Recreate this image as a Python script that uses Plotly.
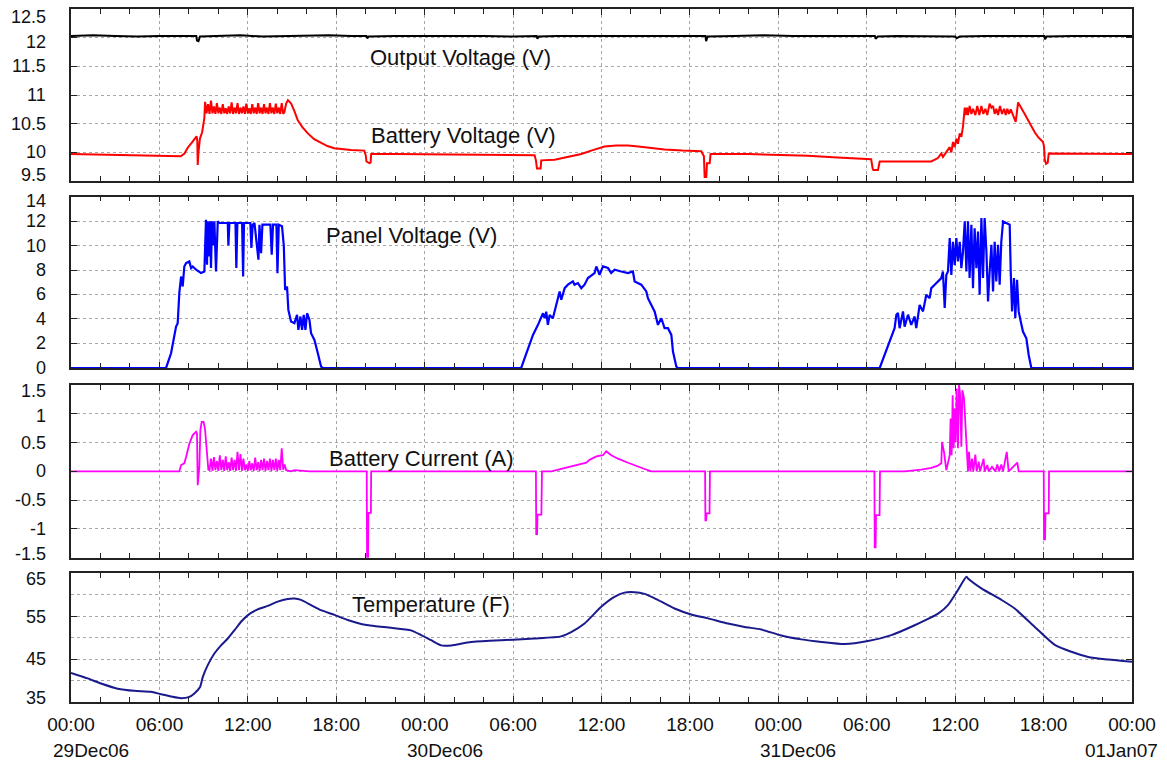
import pandas as pd
import plotly.graph_objects as go

START = pd.Timestamp("2006-12-29 00:00")
END = pd.Timestamp("2007-01-01 00:00")

# ---------------- data (hours since 29Dec06 00:00) ----------------
out_h = [0, 1.5, 3, 4.5, 6, 7.5, 8.5, 8.55, 8.65, 8.75, 10, 11.5, 13, 14.5, 16, 17.5, 19,
         20.05, 20.1, 20.2, 22, 24, 26, 28, 30, 31.6, 31.65, 31.75, 33, 35, 37, 39, 41,
         43.05, 43.1, 43.2, 45, 47, 49, 51, 53, 54.55, 54.6, 54.75, 56, 58, 59.5, 60.0,
         60.1, 60.3, 62, 64, 66.05, 66.1, 66.2, 68, 70, 72]
out_v = [12.03, 12.04, 12.03, 12.02, 12.03, 12.03, 12.03, 11.95, 11.94, 12.02, 12.03, 12.04,
         12.02, 12.03, 12.03, 12.04, 12.03, 12.03, 11.99, 12.02, 12.03, 12.03, 12.04, 12.03,
         12.02, 12.03, 11.98, 12.02, 12.03, 12.03, 12.04, 12.03, 12.03, 12.03, 11.94, 12.02,
         12.03, 12.04, 12.03, 12.03, 12.03, 12.03, 11.98, 12.02, 12.03, 12.03, 12.02, 12.02,
         11.99, 12.02, 12.03, 12.03, 12.03, 11.97, 12.02, 12.03, 12.03, 12.03]

bv_h = [0, 2, 4, 6, 7.45, 7.7, 7.92, 8.2, 8.45, 8.52, 8.57, 8.6, 8.65, 8.75, 8.9, 9.0, 9.05,
        9.1, 9.2, 9.3, 9.4, 9.5, 9.6, 9.7, 9.8, 9.9, 10.0, 10.1, 10.2, 10.3, 10.4, 10.5, 10.6,
        10.7, 10.8, 10.9, 11.0, 11.1, 11.2, 11.3, 11.4, 11.5, 11.6, 11.7, 11.8, 11.9, 12.0,
        12.1, 12.2, 12.3, 12.4, 12.5, 12.6, 12.7, 12.8, 12.9, 13.0, 13.1, 13.2, 13.3, 13.4,
        13.5, 13.6, 13.7, 13.8, 13.9, 14.0, 14.1, 14.2, 14.3, 14.4,
        14.48, 14.6, 14.72, 14.94, 15.16, 15.39, 15.7, 16.07, 16.5, 16.97, 17.4, 17.86, 18.4,
        19.0, 19.9, 20.0, 20.05, 20.25, 20.33, 20.37,
        22, 25, 28, 31.46, 31.55, 31.62, 31.87, 31.91, 32.82, 33.72, 34.63, 35.3, 36.21, 37.0,
        37.8, 38.5, 39.15, 40.28, 41.5, 42.77, 42.95, 43.0, 43.11, 43.16, 43.34, 43.4,
        46, 48.2, 50, 52, 54.3, 54.4, 54.45, 54.76, 54.82, 54.88, 56, 57.5, 58.38, 58.83,
        59.06, 59.17, 59.4, 59.63, 59.74, 59.85, 59.97, 60.08, 60.19, 60.31, 60.42, 60.53,
        60.65, 60.71, 60.8, 60.87, 60.98, 61.1, 61.21, 61.37, 61.5, 61.64, 61.78, 61.91,
        62.05, 62.18, 62.34, 62.46, 62.57, 62.68, 62.79, 62.91, 63.04, 63.18, 63.32, 63.43,
        63.54, 63.65, 63.77, 63.93, 64.11, 64.27, 64.45, 64.72, 64.95, 65.17, 65.4, 65.62,
        65.96, 66.03, 66.08, 66.17, 66.28, 66.35, 68, 70, 72]
bv_v = [9.97, 9.96, 9.95, 9.94, 9.93, 9.98, 10.08, 10.17, 10.26, 10.28, 10.2, 9.78, 10.0,
        10.24, 10.35, 10.5, 10.6,
        10.88, 10.68, 10.84, 10.67, 10.9, 10.68, 10.8, 10.67, 10.86, 10.68, 10.78, 10.67,
        10.84, 10.68, 10.77, 10.67, 10.8, 10.68, 10.87, 10.67, 10.78, 10.68, 10.86, 10.67,
        10.78, 10.68, 10.8, 10.67, 10.85, 10.68, 10.77, 10.67, 10.84, 10.68, 10.78, 10.67,
        10.86, 10.68, 10.78, 10.67, 10.84, 10.68, 10.78, 10.67, 10.86, 10.68, 10.78, 10.67,
        10.85, 10.68, 10.78, 10.67, 10.86, 10.67,
        10.7, 10.85, 10.91, 10.85, 10.72, 10.56, 10.44, 10.33, 10.23, 10.16, 10.11, 10.07,
        10.05, 10.04, 10.03, 9.95, 9.84, 9.81, 9.82, 9.97,
        9.97, 9.96, 9.96, 9.95, 9.86, 9.72, 9.72, 9.86, 9.87, 9.92, 9.97, 10.03, 10.1, 10.12,
        10.12, 10.1, 10.08, 10.05, 10.03, 10.02, 9.93, 9.57, 9.57, 9.81, 9.81, 9.97,
        9.97, 9.96, 9.94, 9.91, 9.88, 9.72, 9.69, 9.69, 9.8, 9.84, 9.84, 9.84, 9.84, 9.9,
        9.98, 9.92, 10.0, 10.09, 10.0, 10.18, 10.09, 10.24, 10.15, 10.33, 10.27, 10.45,
        10.78, 10.65, 10.78, 10.65, 10.81, 10.67, 10.76, 10.65, 10.81, 10.65, 10.81, 10.67,
        10.76, 10.65, 10.85, 10.78, 10.81, 10.67, 10.76, 10.65, 10.81, 10.67, 10.76, 10.65,
        10.76, 10.67, 10.75, 10.65, 10.53, 10.87, 10.78, 10.67, 10.56, 10.45, 10.35, 10.27,
        10.18, 10.1, 9.87, 9.8, 9.82, 9.98, 9.98, 9.97, 9.97]

pv_h = [0, 6.45, 6.79, 7.13, 7.24, 7.35, 7.47, 7.58, 7.69, 7.81, 8.03, 8.15, 8.26, 8.49,
        8.82, 9.05, 9.16, 9.23, 9.28, 9.37, 9.44, 9.5, 9.57, 9.66, 9.73, 9.84, 9.96, 10.07,
        10.64, 10.68, 10.75, 11.16, 11.22, 11.29, 11.61, 11.68, 11.74, 12.17, 12.24, 12.33,
        12.45, 12.72, 12.79, 12.9, 12.99, 13.53, 13.62, 13.71, 13.94, 14.01, 14.1, 14.32,
        14.44, 14.53, 14.66, 14.75, 14.93, 15.16, 15.34, 15.43, 15.57, 15.68, 15.79, 15.91,
        16.02, 16.18, 16.29, 16.52, 16.75, 16.97, 17.09,
        30.55, 30.78, 31.35, 31.69, 32.03, 32.14, 32.25, 32.36, 32.48, 32.7, 32.93, 33.16,
        33.27, 33.5, 33.72, 34.06, 34.17, 34.4, 34.63, 34.85, 35.08, 35.53, 35.65, 35.87,
        36.1, 36.44, 36.66, 36.89, 37.34, 37.8, 38.13, 38.25, 38.7, 39.04, 39.15, 39.38,
        39.61, 39.83, 40.06, 40.28, 40.51, 40.74, 40.85, 41.08, 41.19,
        54.88, 55.21, 55.67, 55.89, 56.01, 56.12, 56.23, 56.46, 56.57, 56.8, 57.02, 57.25,
        57.36, 57.59, 57.82, 58.04, 58.27, 58.38, 58.61, 58.83, 59.06, 59.17, 59.29, 59.4,
        59.51, 59.63, 59.74, 59.85, 59.97, 60.08, 60.19, 60.31, 60.42, 60.53, 60.65, 60.76,
        60.87, 60.98, 61.1, 61.21, 61.32, 61.44, 61.55, 61.66, 61.78, 61.89, 62.0, 62.12,
        62.23, 62.34, 62.46, 62.57, 62.68, 62.79, 62.91, 63.02, 63.13, 63.25, 63.47, 63.7,
        63.77, 63.86, 63.99, 64.08, 64.2, 64.31, 64.45, 64.6, 64.83, 64.99, 65.17, 72]
pv_v = [0, 0, 1.2, 3.38, 3.66, 6.11, 7.47, 6.65, 8.29, 8.57, 8.7, 8.16, 8.29, 8.02, 7.75,
        7.88, 12.1, 8.43, 11.97, 9.11, 11.97, 8.16, 11.97, 10.0, 11.97, 7.88, 11.97, 11.84,
        11.84, 10.0, 11.84, 11.84, 8.16, 11.84, 11.84, 7.47, 11.84, 11.84, 9.8, 11.7, 11.84,
        8.84, 11.7, 9.38, 11.7, 11.7, 9.25, 11.7, 11.7, 7.74, 11.7, 11.57, 10.0, 6.38, 6.65,
        4.74, 3.79, 3.66, 4.33, 3.11, 4.2, 3.11, 4.33, 3.11, 4.47, 3.93, 2.84, 2.29, 1.2,
        0.11, 0,
        0, 0.79, 2.7, 3.52, 4.47, 4.06, 4.6, 3.52, 4.33, 4.06, 5.15, 6.25, 5.57, 6.52, 6.8,
        7.07, 6.8, 6.93, 6.52, 6.8, 7.34, 7.75, 8.29, 7.61, 8.29, 8.16, 7.75, 8.02, 7.88,
        7.75, 7.88, 7.07, 6.8, 6.25, 5.7, 5.15, 4.6, 3.52, 4.06, 3.25, 3.25, 2.7, 1.34, 0.11,
        0,
        0, 1.06, 2.43, 3.25, 4.35, 4.49, 3.25, 4.62, 3.38, 4.35, 3.52, 4.2, 3.25, 5.15, 4.62,
        5.98, 5.7, 6.52, 6.8, 7.07, 7.34, 7.88, 4.9, 7.6, 7.88, 10.6, 7.6, 10.3, 8.4, 10.6,
        8.7, 10.3, 8.15, 9.5, 11.97, 7.88, 11.97, 7.34, 11.7, 6.52, 11.4, 8.15, 11.15, 5.98,
        12.25, 7.34, 12.25, 9.5, 5.43, 7.88, 10.06, 6.25, 10.3, 7.07, 10.06, 6.8, 10.3,
        11.97, 11.83, 11.7, 7.88, 4.62, 7.34, 4.09, 7.2, 4.62, 3.8, 2.97, 2.43, 1.06, 0, 0]

bc_h = [0, 7.35, 7.47, 7.69, 7.81, 8.03, 8.26, 8.49, 8.55, 8.6, 8.71, 8.78, 8.87, 9.0, 9.1,
        9.23, 9.32, 9.4, 9.5, 9.6, 9.7, 9.8, 9.9, 10.0, 10.1, 10.2, 10.3, 10.4, 10.5, 10.6,
        10.7, 10.8, 10.9, 11.0, 11.1, 11.2, 11.3, 11.4, 11.5, 11.6, 11.7, 11.8, 11.9, 12.0,
        12.1, 12.2, 12.3, 12.4, 12.5, 12.6, 12.7, 12.8, 12.9, 13.0, 13.1, 13.2, 13.3, 13.4,
        13.5, 13.6, 13.7, 13.8, 13.9, 14.0, 14.1, 14.2, 14.3, 14.4, 14.5, 14.6, 14.93, 15.16,
        16.07, 16.18, 20.07, 20.09, 20.16, 20.18, 20.35, 20.37,
        31.55, 31.57, 31.63, 31.66, 31.92, 31.96, 32.59, 33.27, 34.17, 34.97, 35.19, 35.65,
        36.1, 36.32, 36.66, 37.12, 37.8, 38.47, 39.15, 39.38, 43.03, 43.05, 43.1, 43.13,
        43.33, 43.36,
        54.52, 54.54, 54.6, 54.63, 54.87, 54.9, 56.57, 57.7, 58.38, 58.83, 59.06, 59.11,
        59.24, 59.4, 59.51, 59.63, 59.69, 59.76, 59.83, 59.9, 59.97, 60.03, 60.1, 60.19,
        60.26, 60.33, 60.42, 60.49, 60.6, 60.69, 60.76, 60.87, 60.94, 61.03, 61.14, 61.23,
        61.37, 61.46, 61.6, 61.69, 61.93, 62.0, 62.18, 62.27, 62.5, 62.73, 62.86, 62.98,
        63.13, 63.25, 63.5, 63.63, 64.22, 64.31, 66.01, 66.03, 66.1, 66.13, 66.35, 66.37, 72]
bc_v = [0, 0, 0.11, 0.14, 0.25, 0.48, 0.63, 0.69, 0.66, -0.24, 0.08, 0.72, 0.86, 0.86, 0.72,
        0.25, 0.03, 0.02, 0.22, 0.01, 0.25, 0.02, 0.18, 0.01, 0.28, 0.02, 0.2, 0.01, 0.26,
        0.02, 0.16, 0.01, 0.24, 0.02, 0.2, 0.01, 0.34, 0.02, 0.3, 0.01, 0.22, 0.02, 0.12,
        0.01, 0.18, 0.02, 0.14, 0.01, 0.24, 0.02, 0.16, 0.01, 0.2, 0.02, 0.22, 0.01, 0.18,
        0.02, 0.22, 0.01, 0.2, 0.02, 0.22, 0.01, 0.2, 0.02, 0.4, 0.03, 0.12, 0.02, 0.0, 0.02,
        0.01, 0, 0, -1.5, -1.5, -0.72, -0.72, 0,
        0, -1.09, -1.09, -0.75, -0.75, 0, 0, 0.04, 0.1, 0.15, 0.2, 0.26, 0.28, 0.35, 0.28,
        0.22, 0.15, 0.08, 0.02, 0, 0, -0.85, -0.85, -0.73, -0.73, 0,
        0, -1.32, -1.32, -0.76, -0.76, 0, 0, 0.03, 0.06, 0.1, 0.14, 0.51, 0.34, 0.02, 0.17,
        0.28, 0.92, 0.28, 1.32, 0.4, 1.09, 0.51, 1.44, 0.4, 1.5, 1.35, 0.43, 1.41, 1.27, 0.8,
        0.34, 0.0, 0.34, 0.0, 0.22, 0.0, 0.29, 0.0, 0.17, 0.0, 0.22, 0.0, 0.11, 0.0, 0.08,
        0.0, 0.12, 0.0, 0.12, 0.0, 0.34, 0.0, 0.15, 0.0, 0, -1.18, -1.18, -0.73, -0.73, 0, 0]

tp_h = [0, 1.13, 2.04, 3.17, 4.3, 5.43, 6.11, 6.79, 7.47, 8.03, 8.37, 8.76, 8.94, 9.28,
        9.73, 10.18, 10.64, 11.09, 11.54, 11.99, 12.67, 13.35, 14.03, 14.71, 15.16, 15.61,
        16.29, 16.97, 17.88, 18.78, 19.69, 20.59, 21.72, 23.08, 23.76, 24.44, 25.12, 25.8,
        27.15, 29.19, 31.45, 33.26, 33.94, 34.85, 35.98, 36.88, 37.56, 38.24, 38.92, 39.82,
        40.96, 42.09, 43.22, 44.58, 45.71, 46.84, 48.2, 49.56, 50.92, 52.5, 54.08, 55.67,
        57.25, 58.84, 59.51, 60.19, 60.76, 60.87, 61.78, 63.14, 64.04, 65.4, 66.76, 67.89,
        69.02, 70.38, 72]
tp_v = [41.8, 40.5, 39.3, 38.1, 37.6, 37.4, 36.8, 36.3, 35.9, 36.2, 37.0, 38.5, 40.8, 43.6,
        46.3, 48.2, 49.8, 51.7, 53.7, 55.2, 56.6, 57.4, 58.4, 59.0, 59.1, 58.8, 57.6, 56.4,
        55.3, 54.1, 53.2, 52.7, 52.3, 51.7, 50.6, 49.4, 48.2, 48.2, 49.0, 49.4, 49.8, 50.3,
        51.3, 53.3, 57.2, 59.5, 60.5, 60.6, 60.2, 58.8, 56.8, 55.4, 54.5, 53.3, 52.5, 51.9,
        50.5, 49.6, 49.0, 48.5, 49.2, 50.6, 52.9, 55.6, 57.6, 61.1, 64.2, 63.8, 61.5, 58.8,
        56.8, 52.5, 48.3, 46.7, 45.5, 44.9, 44.4]

p1_ticks = [9.5, 10, 10.5, 11, 11.5, 12, 12.5]
p1_text = ["9.5", "10", "10.5", "11", "11.5", "12", "12.5"]
p2_ticks = [0, 2, 4, 6, 8, 10, 12, 14]
p2_text = ["0", "2", "4", "6", "8", "10", "12", "14"]
p3_ticks = [-1.5, -1, -0.5, 0, 0.5, 1, 1.5]
p3_text = ["-1.5", "-1", "-0.5", "0", "0.5", "1", "1.5"]
p4_ticks = [35, 45, 55, 65]
p4_text = ["35", "45", "55", "65"]
x_tick_h = [0, 6, 12, 18, 24, 30, 36, 42, 48, 54, 60, 66, 72]
x_tick_text = ["00:00", "06:00", "12:00", "18:00", "00:00", "06:00", "12:00", "18:00",
               "00:00", "06:00", "12:00", "18:00", "00:00"]
date_h = [0, 24, 48]
date_text = ["29Dec06", "30Dec06", "31Dec06"]
last_date = "01Jan07"

series_labels = [
    ("Output Voltage (V)", 26.4, 11.66, "x", "y"),
    ("Battery Voltage (V)", 26.65, 10.30, "x", "y"),
    ("Panel Voltage (V)", 23.08, 10.8, "x2", "y2"),
    ("Battery Current (A)", 23.76, 0.23, "x3", "y3"),
    ("Temperature (F)", 24.44, 57.8, "x4", "y4"),
]

# vertical nudges (px) of a few y tick labels, as in the original figure
label_nudge = {
    "y": {12.5: -8, 12: -4, 9.5: 6},
    "y2": {14: -4},
    "y3": {1.5: -6, 1: -2, -1.5: 4},
    "y4": {65: -6, 55: -1, 35: 4},
}


def to_time(hours):
    return [START + pd.Timedelta(hours=h) for h in hours]


FONT = "Liberation Sans, Arial, sans-serif"
TXT = "#111111"

fig = go.Figure()
fig.add_trace(go.Scatter(x=to_time(out_h), y=out_v, mode="lines",
                         line=dict(color="#000000", width=2), xaxis="x", yaxis="y"))
fig.add_trace(go.Scatter(x=to_time(bv_h), y=bv_v, mode="lines",
                         line=dict(color="#ff0000", width=2), xaxis="x", yaxis="y"))
fig.add_trace(go.Scatter(x=to_time(pv_h), y=pv_v, mode="lines",
                         line=dict(color="#0000ff", width=2.2), xaxis="x2", yaxis="y2"))
fig.add_trace(go.Scatter(x=to_time(bc_h), y=bc_v, mode="lines",
                         line=dict(color="#ff00ff", width=1.8), xaxis="x3", yaxis="y3"))
fig.add_trace(go.Scatter(x=to_time(tp_h), y=tp_v, mode="lines",
                         line=dict(color="#1a1a8c", width=2, shape="spline", smoothing=0.6),
                         xaxis="x4", yaxis="y4"))

grid = dict(showgrid=True, gridcolor="#a8a8a8", griddash="dot", gridwidth=1)
frame = dict(showline=True, linecolor="#222222", linewidth=1.5, mirror="allticks",
             ticks="inside", ticklen=6, tickcolor="#222222", tickwidth=1.2, zeroline=False,
             automargin=False)


def xax(anchor, labels):
    d = dict(type="date", range=[START, END], anchor=anchor,
             tickvals=to_time(x_tick_h), ticktext=x_tick_text,
             showticklabels=labels,
             minor=dict(dtick=7200000, tick0=START, ticks="inside", ticklen=5,
                        tickcolor="#222222", showgrid=False),
             tickfont=dict(family=FONT, size=19, color=TXT),
             ticklabelstandoff=4)
    d.update(grid)
    d.update(frame)
    return d


def yax(domain, rng, tv, anchor):
    d = dict(domain=domain, range=rng, anchor=anchor, tickvals=tv, showticklabels=False)
    d.update(grid)
    d.update(frame)
    return d


y4 = yax([0.0, 0.1857], [35, 65], p4_ticks, "x4")
y4["minor"] = dict(dtick=5, tick0=35, ticks="", showgrid=True, gridcolor="#a8a8a8",
                   griddash="dot", gridwidth=1)

annotations = []
for txt, hx, yv, xr, yr in series_labels:
    annotations.append(dict(text=txt, x=START + pd.Timedelta(hours=hx), y=yv,
                            xref=xr, yref=yr, showarrow=False, xanchor="center",
                            yanchor="middle", font=dict(family=FONT, size=22, color=TXT)))

for yref, vals, texts in [("y", p1_ticks, p1_text), ("y2", p2_ticks, p2_text),
                          ("y3", p3_ticks, p3_text), ("y4", p4_ticks, p4_text)]:
    for v, t in zip(vals, texts):
        annotations.append(dict(text=t, x=0, y=v, xref="paper", yref=yref,
                                xanchor="right", yanchor="middle", xshift=-23,
                                yshift=label_nudge[yref].get(v, 0), showarrow=False,
                                font=dict(family=FONT, size=18, color=TXT)))

for hx, txt in zip(date_h, date_text):
    annotations.append(dict(text=txt, x=START + pd.Timedelta(hours=hx), y=-0.0707,
                            xref="x4", yref="paper", xanchor="left", yanchor="middle",
                            xshift=-20, showarrow=False,
                            font=dict(family=FONT, size=19, color=TXT)))
annotations.append(dict(text=last_date, x=1.0264, y=-0.0707, xref="paper", yref="paper",
                        xanchor="right", yanchor="middle", showarrow=False,
                        font=dict(family=FONT, size=19, color=TXT)))

fig.update_layout(
    width=1167, height=762,
    margin=dict(l=71, r=35, t=9, b=60, autoexpand=False),
    paper_bgcolor="white", plot_bgcolor="white",
    showlegend=False,
    xaxis=xax("y", False),
    xaxis2=xax("y2", False),
    xaxis3=xax("y3", False),
    xaxis4=xax("y4", True),
    yaxis=yax([0.7518, 1.0], [9.5, 12.5], p1_ticks, "x"),
    yaxis2=yax([0.4820, 0.7294], [0, 14], p2_ticks, "x2"),
    yaxis3=yax([0.2082, 0.4574], [-1.5, 1.5], p3_ticks, "x3"),
    yaxis4=y4,
    annotations=annotations,
)

fig.write_html("out.html")
